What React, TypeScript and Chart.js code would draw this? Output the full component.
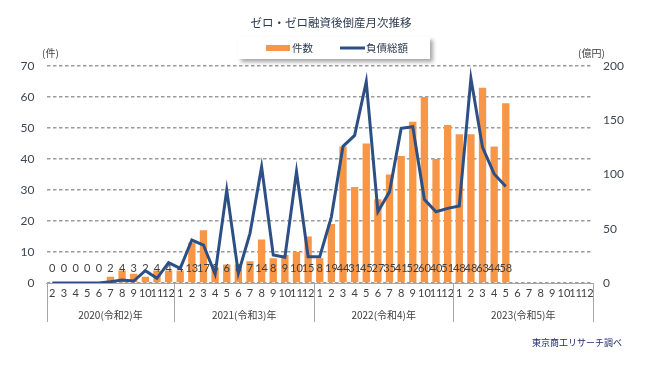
import { useEffect, useRef } from 'react';
import { Chart, registerables } from 'chart.js';

Chart.register(...registerables);

const monthLabels = [
  '2', '3', '4', '5', '6', '7', '8', '9', '10', '11', '12',
  '1', '2', '3', '4', '5', '6', '7', '8', '9', '10', '11', '12',
  '1', '2', '3', '4', '5', '6', '7', '8', '9', '10', '11', '12',
  '1', '2', '3', '4', '5', '6', '7', '8', '9', '10', '11', '12',
];

const yearLabels = ['2020(令和2)年', '2021(令和3)年', '2022(令和4)年', '2023(令和5)年'];
const yearMonthCounts = [11, 12, 12, 12];

// 件数
const counts: (number | null)[] = [
  0, 0, 0, 0, 0, 2, 4, 3, 2, 4, 4,
  4, 13, 17, 5, 6, 6, 7, 14, 8, 9, 10, 15,
  8, 19, 44, 31, 45, 27, 35, 41, 52, 60, 40, 51,
  48, 48, 63, 44, 58, null, null, null, null, null, null, null,
];

// 負債総額（億円）
const debt: (number | null)[] = [
  0, 0, 0, 0, 0, 1.2, 2.8, 1.8, 11.3, 4.3, 18.7,
  13.5, 39.6, 35, 8.3, 85.7, 9, 45.8, 107, 25.8, 23.7, 102.6, 24.3,
  24.3, 61, 126, 136, 185.5, 65.7, 84, 142.5, 144, 77, 65.7, 68.8,
  71, 188.6, 125, 100.5, 89, null, null, null, null, null, null, null,
];

const titleText = 'ゼロ・ゼロ融資後倒産月次推移';
const legendBarText = '件数';
const legendLineText = '負債総額';
const leftUnit = '(件)';
const rightUnit = '(億円)';
const sourceText = '東京商工リサーチ調べ';

const BAR_COLOR = '#F79646';
const LINE_COLOR = '#2C4F85';
const TEXT_COLOR = '#404040';
const CJK = '"Noto Sans CJK JP", sans-serif';
const NUM = 'Lato, "Noto Sans", sans-serif';

const overlayPlugin = {
  id: 'overlay',
  afterDatasetDraw(chart: any, args: any) {
    if (args.index !== 0) return;
    const ctx = chart.ctx;
    const xs = chart.scales.x;
    ctx.save();
    ctx.font = `11px ${NUM}`;
    ctx.fillStyle = TEXT_COLOR;
    ctx.textAlign = 'center';
    ctx.textBaseline = 'middle';
    counts.forEach((v, i) => {
      if (v == null) return;
      ctx.fillText(String(v), xs.getPixelForValue(i), chart.chartArea.bottom - 15);
    });
    ctx.restore();
  },
  afterDraw(chart: any) {
    const ctx = chart.ctx;
    const xs = chart.scales.x;
    const area = chart.chartArea;
    const step = xs.getPixelForValue(1) - xs.getPixelForValue(0);
    ctx.save();

    // year separators and labels
    ctx.strokeStyle = '#A6A6A6';
    ctx.lineWidth = 1;
    let idx = 0;
    const bounds: number[] = [xs.getPixelForValue(0) - step / 2];
    yearMonthCounts.forEach((n) => {
      idx += n;
      bounds.push(xs.getPixelForValue(idx - 1) + step / 2);
    });
    bounds.forEach((bx) => {
      const px = Math.round(bx) + 0.5;
      ctx.beginPath();
      ctx.moveTo(px, area.bottom);
      ctx.lineTo(px, area.bottom + 39);
      ctx.stroke();
    });
    ctx.font = `10px ${CJK}`;
    ctx.fillStyle = TEXT_COLOR;
    ctx.textAlign = 'center';
    ctx.textBaseline = 'middle';
    yearLabels.forEach((t, i) => {
      ctx.fillText(t, (bounds[i] + bounds[i + 1]) / 2, area.bottom + 32);
    });

    // title
    ctx.font = `11.5px ${CJK}`;
    ctx.fillStyle = '#2E3A50';
    ctx.fillText(titleText, 331, 23);

    // legend box with shadow
    ctx.save();
    ctx.shadowColor = 'rgba(0,0,0,0.35)';
    ctx.shadowOffsetX = 3;
    ctx.shadowOffsetY = 3;
    ctx.shadowBlur = 4;
    ctx.fillStyle = '#FFFFFF';
    ctx.fillRect(238, 37, 192, 22);
    ctx.restore();
    ctx.fillStyle = BAR_COLOR;
    ctx.fillRect(266, 45, 24, 6);
    ctx.strokeStyle = LINE_COLOR;
    ctx.lineWidth = 3;
    ctx.beginPath();
    ctx.moveTo(340, 48);
    ctx.lineTo(365, 48);
    ctx.stroke();
    ctx.font = `10.5px ${CJK}`;
    ctx.fillStyle = '#2E3A50';
    ctx.textAlign = 'left';
    ctx.fillText(legendBarText, 292, 48);
    ctx.fillText(legendLineText, 366, 48);

    // units
    ctx.font = `10px ${CJK}`;
    ctx.fillStyle = TEXT_COLOR;
    ctx.fillText(leftUnit, 42, 53);
    ctx.fillText(rightUnit, 578, 53);

    // source
    ctx.font = `9px ${CJK}`;
    ctx.fillStyle = '#1F2A6B';
    ctx.textAlign = 'right';
    ctx.fillText(sourceText, 622, 343);

    ctx.restore();
  },
};

export default function App() {
  const canvasRef = useRef<HTMLCanvasElement | null>(null);

  useEffect(() => {
    const canvas = canvasRef.current;
    if (!canvas) return;
    const chart = new Chart(canvas, {
      data: {
        labels: monthLabels,
        datasets: [
          {
            type: 'bar',
            label: legendBarText,
            data: counts,
            backgroundColor: BAR_COLOR,
            yAxisID: 'y',
            order: 2,
            barPercentage: 0.63,
            categoryPercentage: 1,
          },
          {
            type: 'line',
            label: legendLineText,
            data: debt,
            borderColor: LINE_COLOR,
            backgroundColor: LINE_COLOR,
            borderWidth: 3,
            pointRadius: 0,
            tension: 0,
            yAxisID: 'y1',
            order: 1,
          },
        ],
      } as any,
      options: {
        responsive: false,
        animation: false,
        devicePixelRatio: 1,
        layout: { padding: { top: 66, left: 0, right: 0, bottom: 0 } },
        plugins: {
          legend: { display: false },
          title: { display: false },
          tooltip: { enabled: false },
        },
        scales: {
          x: {
            grid: { display: false, drawTicks: false },
            border: { display: true, color: '#A6A6A6', width: 1 },
            ticks: {
              autoSkip: false,
              maxRotation: 0,
              minRotation: 0,
              padding: 4,
              color: TEXT_COLOR,
              font: { family: NUM, size: 11 },
            },
            afterFit: (s: any) => {
              s.height = 89;
            },
          },
          y: {
            position: 'left',
            min: 0,
            max: 70,
            ticks: { stepSize: 10, padding: 12, color: '#3C4654', font: { family: NUM, size: 12 } },
            grid: { color: '#9C9C9C', lineWidth: 1.5, drawTicks: false },
            border: { display: false, dash: [3.5, 2.5] },
            afterFit: (s: any) => {
              s.width = 46.5;
            },
          },
          y1: {
            position: 'right',
            min: 0,
            max: 200,
            ticks: { stepSize: 50, padding: 10, color: '#3C4654', font: { family: NUM, size: 12 } },
            grid: { display: false, drawTicks: false },
            border: { display: false },
            afterFit: (s: any) => {
              s.width = 73;
            },
          },
        },
      } as any,
      plugins: [overlayPlugin],
    });
    return () => chart.destroy();
  }, []);

  return (
    <div style={{ position: 'fixed', left: 0, top: 0, width: 666, height: 372, background: '#FFFFFF' }}>
      <canvas ref={canvasRef} width={666} height={372} style={{ display: 'block' }} />
    </div>
  );
}
